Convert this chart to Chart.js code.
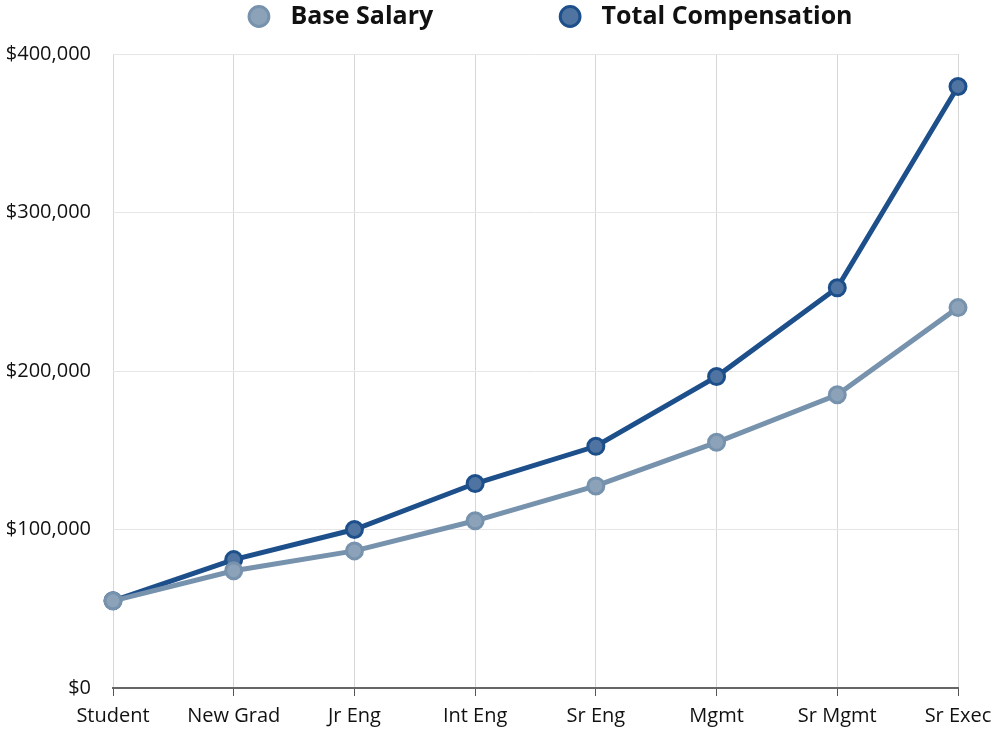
<!DOCTYPE html>
<html>
<head>
<meta charset="utf-8">
<script src="https://cdn.jsdelivr.net/npm/chart.js@4"></script>
<style>
  html, body { margin: 0; padding: 0; background: #fff; }
  #wrap { width: 1000px; height: 733px; position: relative; }
</style>
</head>
<body>
<div id="wrap"><canvas id="salaryChart"></canvas></div>
<script>
const levels = ["Student", "New Grad", "Jr Eng", "Int Eng", "Sr Eng", "Mgmt", "Sr Mgmt", "Sr Exec"];
const baseSalary = [55000, 74000, 86500, 105500, 127500, 155000, 185000, 240000];
const totalComp = [55000, 81000, 100000, 129000, 152500, 196500, 252500, 379500];
const yTicks = [0, 100000, 200000, 300000, 400000];

// nudge the legend box (it is centred on the canvas by default)
const legendShift = {
  id: "legendShift",
  afterLayout(chart, args, opts) {
    const lg = chart.legend;
    if (!lg) return;
    lg.left += opts.dx;
    lg.right += opts.dx;
    lg.top += opts.dy;
    lg.bottom += opts.dy;
  },
};

const ctx = document.getElementById("salaryChart").getContext("2d");
const salaryChart = new Chart(ctx, {
  type: "line",
  data: {
    labels: levels,
    datasets: [
      {
        label: "Base Salary",
        data: baseSalary,
        borderColor: "#7792ad",
        backgroundColor: "#8ba2b9",
        pointBackgroundColor: "#8ba2b9",
        pointBorderColor: "#7792ad",
        borderWidth: 5,
        pointRadius: 8,
        pointBorderWidth: 3,
        tension: 0,
      },
      {
        label: "Total Compensation",
        data: totalComp,
        borderColor: "#1d4f8b",
        backgroundColor: "#4f74a1",
        pointBackgroundColor: "#4f74a1",
        pointBorderColor: "#1d4f8b",
        borderWidth: 5,
        pointRadius: 8,
        pointBorderWidth: 3,
        tension: 0,
      },
    ],
  },
  plugins: [legendShift],
  options: {
    responsive: true,
    maintainAspectRatio: false,
    animation: false,
    layout: { padding: { left: 5, right: 42, top: 5, bottom: 5 } },
    plugins: {
      legendShift: { dx: 68, dy: -15 },
      legend: {
        position: "top",
        labels: {
          usePointStyle: true,
          pointStyle: "circle",
          color: "#111",
          padding: 14,
          boxHeight: 14,
          font: { family: "Open Sans", size: 25, weight: "bold" },
          generateLabels: (chart) =>
            chart.data.datasets.map((ds, i) => ({
              text: " " + ds.label + (i === 0 ? " ".repeat(17) : ""),
              fillStyle: ds.pointBackgroundColor,
              strokeStyle: ds.pointBorderColor,
              lineWidth: 3,
              pointStyle: "circle",
              datasetIndex: i,
              fontColor: "#111",
            })),
        },
      },
      tooltip: { enabled: false },
    },
    scales: {
      x: {
        offset: false,
        afterFit: (scale) => {
          scale.height = 40;
        },
        grid: {
          color: "#d6d6d6",
          drawTicks: true,
          tickLength: 8,
          tickColor: "#555",
        },
        border: { color: "#666", width: 2 },
        ticks: {
          color: "#111",
          padding: 8,
          maxRotation: 0,
          font: { family: "Open Sans", size: 20 },
        },
      },
      y: {
        min: 0,
        max: 400000,
        afterBuildTicks: (axis) => {
          axis.ticks = yTicks.map((v) => ({ value: v }));
        },
        afterFit: (scale) => {
          scale.width = 108;
        },
        grid: { color: "#e6e6e6", drawTicks: false },
        border: { display: false },
        ticks: {
          color: "#111",
          padding: 22,
          font: { family: "Open Sans", size: 20 },
          callback: (value) => "$" + value.toLocaleString("en-US"),
        },
      },
    },
  },
});
</script>
</body>
</html>
